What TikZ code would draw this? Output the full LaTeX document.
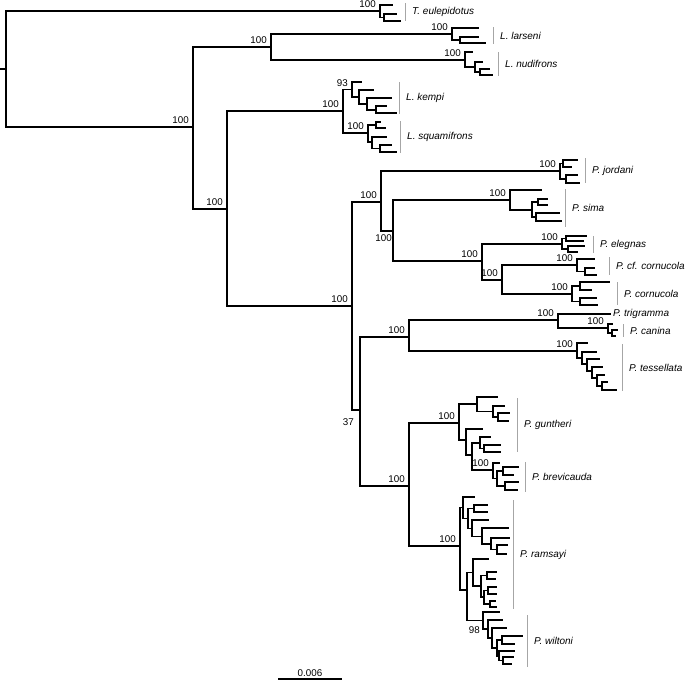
\documentclass[tikz,border=0pt]{standalone}
\usepackage{fontspec}
\setmainfont{Liberation Sans}
\usetikzlibrary{positioning}
\tikzset{
  br/.style={line width=1.2pt, black},
  cbar/.style={line width=1pt, black!35},
  taxon/.style={anchor=west, inner sep=0pt, font=\fontsize{10}{12}\selectfont\itshape},
  sup/.style={anchor=base east, inner sep=0pt, xshift=-4pt, yshift=3.5pt, font=\fontsize{9.8}{11}\selectfont},
  supb/.style={anchor=north east, inner sep=0pt, font=\fontsize{9.8}{11}\selectfont},
}
\newcommand{\clade}[5]{%
  \draw[cbar] (#2,#3) -- (#2,#4);
  \node[taxon] (#1) at ({#2+7},{(#3+#4)/2}) {#5};}

\begin{document}
\begin{tikzpicture}[x=1pt, y=-1pt]
  \useasboundingbox (0,0) rectangle (685,680);
  % tree nodes
  \foreach \n/\x/\y in {R0/0/69, R/6/69, N1/193/127, LA/271/47, N2/227/209, K/343/111, P/352/306,
      T/380/11, t1/393/5, T2/384/17.5, t2/397/14, t3/401/21,
      LL/452/34, ll1/479/28, LL2/460/40, ll2/479/37, ll3/486/43,
      LN/465/60, ln1/473/52, LN2/475/67, ln2/483/62, LN3/480/72, ln3/490/69, ln4/493/75,
      KE/352/89.5, ke1/362/82, KE2/359/97, ke2/374/90, KE3/367/104, ke3/392/98, KE4/376/110, ke4/387/106, ke5/397/113,
      SQ/368/133, SQa/376/125, sq1/381/122, sq2/386/128, SQb/372/142, sq3/387/137, SQc/380/148.5, sq4/392/145, sq5/397/152,
      PA/381/202, PA2/393/231, EC/482/261, CC/502/280,
      JO/560/171, JOa/563/163.5, jo1/578/160, jo2/572/167, JOb/566/179, jo3/578/175, jo4/580/183,
      SI/510/200, si1/542/190, SI2/532/210, SIa/538/202, si2/548/199, si3/548/205, SIb/536/217, si4/560/213, si5/562/221,
      EL/562/244, ELa/566/238.5, el1/587/236, el2/584/241, ELb/568/249, el3/585/246, el4/578/252,
      CF/577/265, cf1/595/259, CF2/585/271.5, cf2/595/268, cf3/597/275,
      CO/572/294, COa/580/286, co1/610/282, co2/592/290, COb/580/301.5, co3/597/298, co4/598/305,
      PB/360/410, TT/409/337, GR/409/486,
      TC/558/320, tr/611/314, CA/608/328, ca1/613/324, CA2/612/333, ca2/618/330, ca3/616/336,
      TE/577/351, te1/588/343, TE2/582/358, te2/597/352, TE3/587/364, te3/600/359, TE4/592/371, te4/603/367,
      TE5/597/378, te5/605/375, TE6/602/386, te6/608/382, te7/617/390,
      GB/459/423, G1/477/404, gu1/498/397, G1b/493/411.5, gu2/505/406, G1c/498/417, gu3/510/413, gu4/509/421,
      G2/466/440, gu5/483/429, G3/472/455, G4/480/443, gu6/491/437, G4b/484/448.5, gu7/501/445, gu8/501/452,
      BR/493/470, br1/500/463, BR2/497/478.5, BR2a/503/471, br2/519/467, br3/514/475, BR2b/505/486, br4/519/482, br5/518/490,
      RW/460/546, RU/463/507.5, ra1/475/497, RU2/468/518.5, RU3/474/508.5, ra2/488/505, ra3/488/512,
      RU4/472/528.5, ra4/489/520, RU5/482/536.5, ra5/509/528, RU6/491/544, ra6/510/538, RU7/497/549.5, ra7/508/545, ra8/507/554,
      RL/467/590, RL1/473/572.5, ra9/489/559, RL2/481/586, RL3/487/575.5, ra10/497/572, ra11/496/579,
      RL4/484/597, RL5/488/590.5, ra12/497/587, ra13/497/594, RL6/490/604, ra14/496/601, ra15/497/607,
      WI/483/620.5, wi1/500/612, WI2/488/629, wi2/503/620, WI3/492/638, wi3/507/628, WI4/497/648,
      WI5/502/640, wi4/523/636, wi5/515/644, WI6/499/656, wi6/515/651, WI7/503/660.5, wi7/514/657, wi8/512/664}
    \coordinate (\n) at (\x,\y);
  % branches
  \draw[br] (R0) -- (R);
  \foreach \p/\c in {R/T, R/N1, T/t1, T/T2, T2/t2, T2/t3,
      N1/LA, N1/N2, LA/LL, LA/LN,
      LL/ll1, LL/LL2, LL2/ll2, LL2/ll3,
      LN/ln1, LN/LN2, LN2/ln2, LN2/LN3, LN3/ln3, LN3/ln4,
      N2/K, N2/P, K/KE, K/SQ,
      KE/ke1, KE/KE2, KE2/ke2, KE2/KE3, KE3/ke3, KE3/KE4, KE4/ke4, KE4/ke5,
      SQ/SQa, SQ/SQb, SQa/sq1, SQa/sq2, SQb/sq3, SQb/SQc, SQc/sq4, SQc/sq5,
      P/PA, P/PB, PA/JO, PA/PA2,
      JO/JOa, JO/JOb, JOa/jo1, JOa/jo2, JOb/jo3, JOb/jo4,
      PA2/SI, PA2/EC,
      SI/si1, SI/SI2, SI2/SIa, SI2/SIb, SIa/si2, SIa/si3, SIb/si4, SIb/si5,
      EC/EL, EC/CC,
      EL/ELa, EL/ELb, ELa/el1, ELa/el2, ELb/el3, ELb/el4,
      CC/CF, CC/CO,
      CF/cf1, CF/CF2, CF2/cf2, CF2/cf3,
      CO/COa, CO/COb, COa/co1, COa/co2, COb/co3, COb/co4,
      PB/TT, PB/GR, TT/TC, TT/TE,
      TC/tr, TC/CA, CA/ca1, CA/CA2, CA2/ca2, CA2/ca3,
      TE/te1, TE/TE2, TE2/te2, TE2/TE3, TE3/te3, TE3/TE4, TE4/te4, TE4/TE5, TE5/te5, TE5/TE6, TE6/te6, TE6/te7,
      GR/GB, GR/RW, GB/G1, GB/G2,
      G1/gu1, G1/G1b, G1b/gu2, G1b/G1c, G1c/gu3, G1c/gu4,
      G2/gu5, G2/G3, G3/G4, G3/BR,
      G4/gu6, G4/G4b, G4b/gu7, G4b/gu8,
      BR/br1, BR/BR2, BR2/BR2a, BR2/BR2b, BR2a/br2, BR2a/br3, BR2b/br4, BR2b/br5,
      RW/RU, RW/RL,
      RU/ra1, RU/RU2, RU2/RU3, RU2/RU4, RU3/ra2, RU3/ra3, RU4/ra4, RU4/RU5, RU5/ra5, RU5/RU6, RU6/ra6, RU6/RU7, RU7/ra7, RU7/ra8,
      RL/RL1, RL/WI,
      RL1/ra9, RL1/RL2, RL2/RL3, RL2/RL4, RL3/ra10, RL3/ra11, RL4/RL5, RL4/RL6, RL5/ra12, RL5/ra13, RL6/ra14, RL6/ra15,
      WI/wi1, WI/WI2, WI2/wi2, WI2/WI3, WI3/wi3, WI3/WI4, WI4/WI5, WI4/WI6, WI5/wi4, WI5/wi5, WI6/wi6, WI6/WI7, WI7/wi7, WI7/wi8}
    \draw[br] (\p) |- (\c);
  % support values
  \foreach \n/\v in {T/100, LA/100, LL/100, LN/100, N1/100, N2/100, K/100, KE/93, SQ/100, P/100,
      PA/100, JO/100, SI/100, EC/100, EL/100, CC/100, CF/100, CO/100, TT/100, TC/100, CA/100, TE/100,
      GR/100, GB/100, BR/100, RW/100}
    \node[sup] (s\n) at (\n) {\v};
  \node[supb, xshift=-1pt, yshift=-3pt] (sPA2) at (PA2) {100};
  \node[supb, xshift=-6pt, yshift=-8pt] (sPB) at (PB) {37};
  \node[supb, xshift=-3pt, yshift=-6pt] (sWI) at (WI) {98};
  % taxa
  \clade{lTe}{405}{3}{21}{T. eulepidotus}
  \clade{lLl}{493}{27}{44}{L. larseni}
  \clade{lLn}{498}{52}{76}{L. nudifrons}
  \clade{lLk}{399}{82}{114}{L. kempi}
  \clade{lLs}{400}{121}{153}{L. squamifrons}
  \clade{lPj}{585}{158}{183}{P. jordani}
  \clade{lPs}{565}{189}{227}{P. sima}
  \clade{lPe}{593}{236}{253}{P. elegnas}
  \clade{lPf}{609}{257}{275}{P. cf. cornucola}
  \clade{lPc}{617}{282}{305}{P. cornucola}
  \node[taxon, right=2pt of tr] (lPtr) {P. trigramma};
  \clade{lPn}{623}{324}{337}{P. canina}
  \clade{lPt}{622}{344}{391}{P. tessellata}
  \clade{lPg}{517}{398}{452}{P. guntheri}
  \clade{lPb}{525}{462}{492}{P. brevicauda}
  \clade{lPr}{513}{500}{609}{P. ramsayi}
  \clade{lPw}{527}{615}{667}{P. wiltoni}
  % scale bar
  \coordinate (sbA) at (278,679);
  \coordinate (sbB) at (342,679);
  \draw[br] (sbA) -- (sbB) node[midway, above=2pt, inner sep=0pt, font=\fontsize{9.8}{11}\selectfont] (sbl) {0.006};
\end{tikzpicture}
\end{document}
